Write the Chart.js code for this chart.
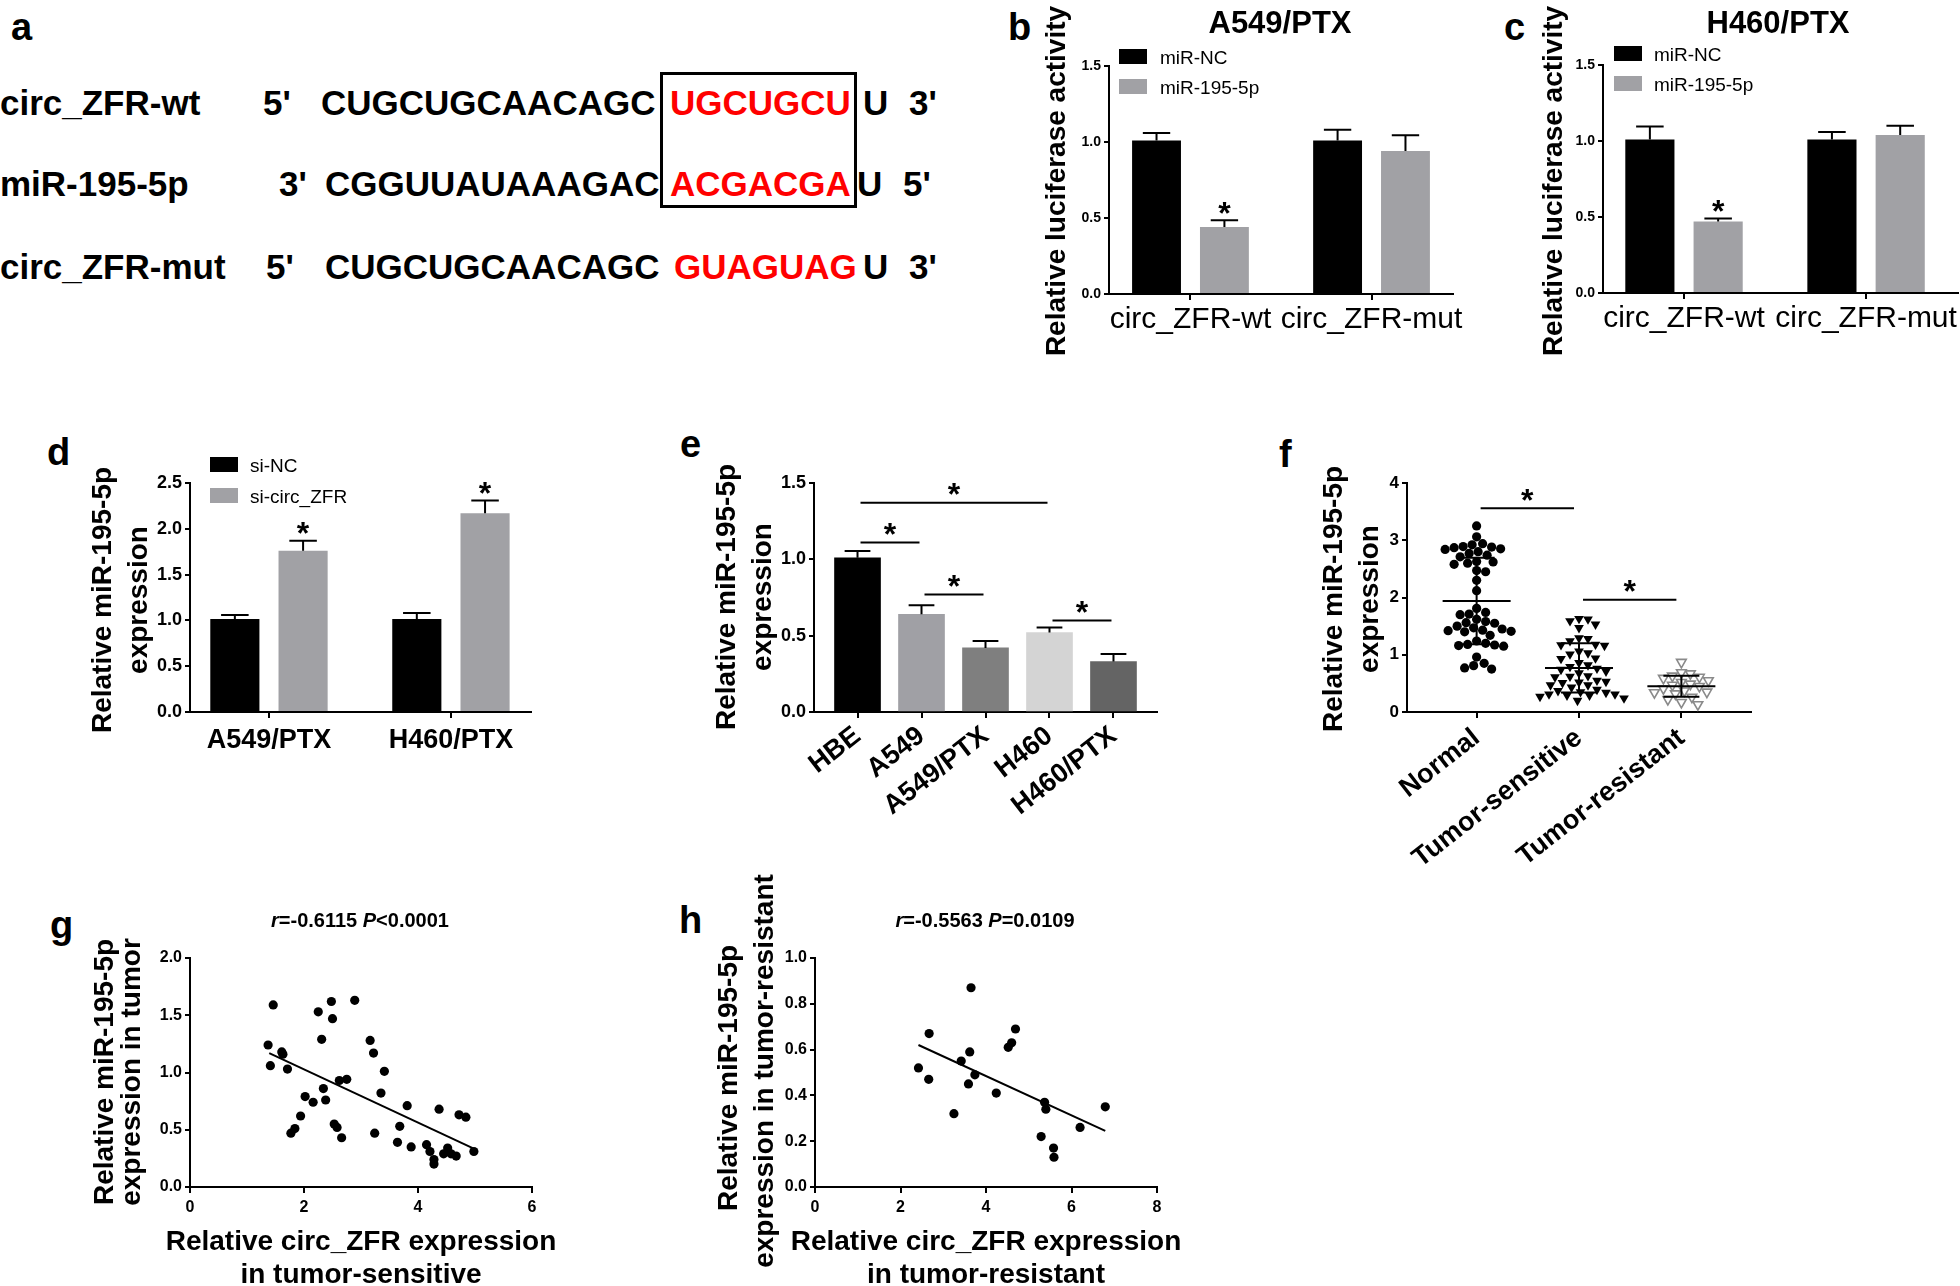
<!DOCTYPE html>
<html>
<head>
<meta charset="utf-8">
<script src="https://cdn.jsdelivr.net/npm/chart.js@4.4.1/dist/chart.umd.min.js"></script>
<style>
  body { margin: 0; width: 1960px; height: 1286px; background: #fff; position: relative; overflow: hidden;
         font-family: 'Liberation Sans', Arial, sans-serif; }
  .t { position: absolute; white-space: nowrap; font-weight: bold; line-height: 1; color: #000; }
  .red { color: #f00; }
  canvas { position: absolute; }
  #siteBox { position: absolute; border: 3px solid #000; box-sizing: border-box; }
</style>
</head>
<body>
<div id="siteBox"></div>
<canvas id="chartB"></canvas>
<canvas id="chartC"></canvas>
<canvas id="chartD"></canvas>
<canvas id="chartE"></canvas>
<canvas id="chartF"></canvas>
<canvas id="chartG"></canvas>
<canvas id="chartH"></canvas>
<script>
// ---------- data ----------
// a: binding site
const seqNames = ['circ_ZFR-wt', 'miR-195-5p', 'circ_ZFR-mut'];
const seqEnds = [["5'", "3'"], ["3'", "5'"], ["5'", "3'"]];
const seqBodies = ['CUGCUGCAACAGC', 'CGGUUAUAAAGAC', 'CUGCUGCAACAGC'];
const seqSites = ['UGCUGCU', 'ACGACGA', 'GUAGUAG'];
const seqTails = ['U', 'U', 'U'];

// b, c: luciferase
const luciCategories = ['circ_ZFR-wt', 'circ_ZFR-mut'];
const luciSeries = ['miR-NC', 'miR-195-5p'];
const luciTicks = [0, 0.5, 1.0, 1.5];
const a549Nc = [1.01, 1.01];
const a549NcErr = [0.05, 0.07];
const a549Mir = [0.44, 0.94];
const a549MirErr = [0.045, 0.105];
const h460Nc = [1.01, 1.01];
const h460NcErr = [0.085, 0.05];
const h460Mir = [0.47, 1.04];
const h460MirErr = [0.02, 0.06];
const luciStars = [true, false];

// d: si-circ_ZFR
const siCategories = ['A549/PTX', 'H460/PTX'];
const siSeries = ['si-NC', 'si-circ_ZFR'];
const siTicks = [0, 0.5, 1.0, 1.5, 2.0, 2.5];
const siNc = [1.015, 1.015];
const siNcErr = [0.045, 0.065];
const siZfr = [1.76, 2.17];
const siZfrErr = [0.11, 0.14];
const siStars = [true, true];

// e: cell lines
const cellLines = ['HBE', 'A549', 'A549/PTX', 'H460', 'H460/PTX'];
const cellExpr = [1.01, 0.64, 0.42, 0.52, 0.33];
const cellErr = [0.045, 0.06, 0.045, 0.033, 0.05];
const cellTicks = [0, 0.5, 1.0, 1.5];
const cellSig = [[0, 3, 1.37], [0, 1, 1.11], [1, 2, 0.77], [3, 4, 0.60]];

// g: tumor-sensitive correlation
const sensZfr = [1.46, 1.37, 1.41, 1.61, 1.63, 1.71, 1.77, 1.84, 1.94, 2.02, 2.16, 2.25, 2.31, 2.34, 2.38,
  2.48, 2.50, 2.53, 2.58, 2.62, 2.66, 2.75, 2.89, 3.16, 3.22, 3.24, 3.35, 3.41, 3.64, 3.68, 3.81, 3.88,
  4.15, 4.21, 4.28, 4.28, 4.37, 4.45, 4.52, 4.58, 4.67, 4.72, 4.84, 4.98];
const sensMir = [1.59, 1.24, 1.06, 1.18, 1.16, 1.03, 0.47, 0.51, 0.62, 0.79, 0.74, 1.53, 1.29, 0.86, 0.76,
  1.62, 1.47, 0.55, 0.52, 0.93, 0.43, 0.94, 1.63, 1.28, 1.17, 0.47, 0.82, 1.01, 0.39, 0.53, 0.71, 0.35,
  0.37, 0.31, 0.24, 0.20, 0.68, 0.29, 0.34, 0.29, 0.27, 0.63, 0.61, 0.31];
const sensFit = [[1.39, 1.17], [4.96, 0.34]];
const sensTicksX = [0, 2, 4, 6];
const sensTicksY = [0, 0.5, 1.0, 1.5, 2.0];

// h: tumor-resistant correlation
const resZfr = [2.42, 2.67, 2.66, 3.25, 3.42, 3.62, 3.59, 3.65, 3.74, 4.24, 4.52, 4.60, 4.69, 5.29, 5.37,
  5.40, 5.58, 5.59, 6.20, 6.79];
const resMir = [0.52, 0.67, 0.47, 0.32, 0.55, 0.59, 0.45, 0.87, 0.49, 0.41, 0.61, 0.63, 0.69, 0.22, 0.37,
  0.34, 0.17, 0.13, 0.26, 0.35];
const resFit = [[2.42, 0.62], [6.79, 0.245]];
const resTicksX = [0, 2, 4, 6, 8];
const resTicksY = [0, 0.2, 0.4, 0.6, 0.8, 1.0];

// f: tissues (tumor groups are the same samples as g and h)
const tissueGroups = ['Normal', 'Tumor-sensitive', 'Tumor-resistant'];
const tissueNormal = [3.25, 3.06, 2.94, 2.92, 2.89, 2.88, 2.87, 2.85, 2.84, 2.80, 2.77, 2.74, 2.71, 2.63,
  2.62, 2.60, 2.58, 2.47, 2.45, 2.30, 2.12, 1.81, 1.74, 1.71, 1.70, 1.62, 1.58, 1.56, 1.55, 1.50, 1.47,
  1.45, 1.43, 1.42, 1.41, 1.40, 1.34, 1.24, 1.20, 1.18, 1.17, 1.16, 1.15, 0.96, 0.85, 0.81, 0.77, 0.75];
const tissueSensitive = sensMir;
const tissueResistant = resMir;
const tissueMean = [1.94, 0.77, 0.45];
const tissueSd = [0.755, 0.43, 0.185];
const tissueTicks = [0, 1, 2, 3, 4];
const tissueSig = [[0, 1, 3.56], [1, 2, 1.96]];

// ---------- helpers ----------
const FONT = "'Liberation Sans', Arial, sans-serif";
const GRAY = '#a1a1a5';
Chart.defaults.font.family = FONT;
Chart.defaults.color = '#000';
Chart.defaults.animation = false;

function htmlText(str, x, y, size, cls) {
    const d = document.createElement('div');
    d.className = 't' + (cls ? ' ' + cls : '');
    d.textContent = str;
    d.style.fontSize = size + 'px';
    d.style.left = x + 'px';
    d.style.top = (y - 0.8465 * size) + 'px';   // y is the baseline
    document.body.appendChild(d);
}

function setupCanvas(id, area, pad) {
    const cv = document.getElementById(id);
    const w = area.r - area.l + pad.l + pad.r;
    const h = area.b - area.t + pad.t + pad.b;
    cv.width = w; cv.height = h;
    cv.style.left = (area.l - pad.l) + 'px';
    cv.style.top = (area.t - pad.t) + 'px';
    cv.style.width = w + 'px';
    cv.style.height = h + 'px';
    return { x: area.l - pad.l, y: area.t - pad.t };
}

function drawText(ctx, str, x, y, size, opts = {}) {
    ctx.save();
    ctx.font = `${opts.italic ? 'italic ' : ''}${opts.weight || 'bold'} ${size}px ${FONT}`;
    ctx.fillStyle = opts.color || '#000';
    ctx.textAlign = opts.align || 'left';
    ctx.textBaseline = 'alphabetic';
    ctx.translate(x, y);
    if (opts.rotate) ctx.rotate(opts.rotate);
    ctx.fillText(str, 0, 0);
    ctx.restore();
}

function yTitle(ctx, lines, baselines, cy, size) {
    lines.forEach((l, i) => drawText(ctx, l, baselines[i], cy, size, { align: 'center', rotate: -Math.PI / 2 }));
}

function star(ctx, x, cy) {
    drawText(ctx, '*', x, cy + 0.55 * 32, 32, { align: 'center' });
}

function richText(ctx, parts, cx, y, size) {
    ctx.save();
    const fontOf = p => `${p.i ? 'italic ' : ''}bold ${size}px ${FONT}`;
    let total = 0;
    parts.forEach(p => { ctx.font = fontOf(p); total += ctx.measureText(p.t).width; });
    let x = cx - total / 2;
    ctx.fillStyle = '#000';
    parts.forEach(p => { ctx.font = fontOf(p); ctx.fillText(p.t, x, y); x += ctx.measureText(p.t).width; });
    ctx.restore();
}

function legendBoxes(ctx, names, colors, x, ys, textX, size) {
    names.forEach((n, i) => {
        ctx.fillStyle = colors[i];
        ctx.fillRect(x, ys[i], 28, 15);
        drawText(ctx, n, textX, ys[i] + 15, size, { weight: 'normal' });
    });
}

// text drawn in page coordinates
function decorPlugin(origin, draw) {
    return {
        id: 'decor',
        afterDraw(chart) {
            const ctx = chart.ctx;
            ctx.save();
            ctx.translate(-origin.x, -origin.y);
            draw(ctx, chart);
            ctx.restore();
        }
    };
}

// error bars (upper half) and stars from dataset.errors / dataset.stars
const errorBarPlugin = {
    id: 'errorBars',
    afterDatasetsDraw(chart) {
        const ctx = chart.ctx, ys = chart.scales.y;
        ctx.save();
        ctx.strokeStyle = '#000';
        ctx.lineWidth = 2;
        chart.data.datasets.forEach((ds, di) => {
            if (!ds.errors) return;
            const meta = chart.getDatasetMeta(di);
            meta.data.forEach((bar, i) => {
                const v = meta.controller.getParsed(i).y;
                const top = ys.getPixelForValue(v + ds.errors[i]);
                const half = bar.width * 0.28;
                ctx.beginPath();
                ctx.moveTo(bar.x, bar.y);
                ctx.lineTo(bar.x, top);
                ctx.moveTo(bar.x - half, top);
                ctx.lineTo(bar.x + half, top);
                ctx.stroke();
                if (ds.stars && ds.stars[i]) star(ctx, bar.x, top - 14);
            });
        });
        ctx.restore();
    }
};

function sigPlugin(pairs, inset) {
    return {
        id: 'sig',
        afterDatasetsDraw(chart) {
            const ctx = chart.ctx, xs = chart.scales.x, ys = chart.scales.y;
            ctx.save();
            ctx.strokeStyle = '#000';
            ctx.lineWidth = 2;
            pairs.forEach(([a, b, v]) => {
                const x1 = xs.getPixelForValue(a) + inset[0];
                const x2 = xs.getPixelForValue(b) + inset[1];
                const y = ys.getPixelForValue(v);
                ctx.beginPath();
                ctx.moveTo(x1, y);
                ctx.lineTo(x2, y);
                ctx.stroke();
                star(ctx, (x1 + x2) / 2, y - 15);
            });
            ctx.restore();
        }
    };
}

function yAxis(ticks, size, padL, fmt) {
    return {
        min: ticks[0], max: ticks[ticks.length - 1],
        afterFit: s => { s.width = padL; },
        afterBuildTicks: s => { s.ticks = ticks.map(v => ({ value: v })); },
        border: { display: true, color: '#000', width: 2 },
        grid: { display: true, drawOnChartArea: false, drawTicks: true, tickLength: 5, color: '#000', lineWidth: 2 },
        ticks: { font: { size: size, weight: 'bold' }, padding: 3, callback: v => fmt(v) }
    };
}

// x axis with one tick per category on a linear index scale
function categoryAxis(cats, xMin, xMax, padB, font, rotation, padding) {
    return {
        type: 'linear', offset: false, min: xMin, max: xMax,
        afterFit: s => { s.height = padB; },
        afterBuildTicks: s => { s.ticks = cats.map((c, i) => ({ value: i })); },
        border: { display: true, color: '#000', width: 2 },
        grid: { display: true, offset: false, drawOnChartArea: false, drawTicks: true, tickLength: 6, color: '#000', lineWidth: 2 },
        ticks: { font: font, minRotation: rotation, maxRotation: rotation, autoSkip: false, padding: padding,
                 callback: v => cats[v] }
    };
}

function baseOptions(pad, scales) {
    return {
        responsive: false,
        maintainAspectRatio: false,
        animation: false,
        layout: { padding: { left: 0, top: pad.t, right: pad.r, bottom: 0 }, autoPadding: false },
        plugins: { legend: { display: false }, tooltip: { enabled: false } },
        scales: scales
    };
}

// grouped bar panel (b, c, d)
function groupedBarChart(id, area, pad, xRange, cats, series, vals, errs, stars, ticks, sizes, decor) {
    const origin = setupCanvas(id, area, pad);
    const colors = ['#000000', GRAY];
    return new Chart(document.getElementById(id), {
        type: 'bar',
        data: {
            datasets: series.map((name, k) => ({
                label: name,
                data: vals[k].map((v, i) => ({ x: i, y: v })),
                errors: errs[k],
                stars: k === 1 ? stars : null,
                backgroundColor: colors[k],
                borderWidth: 0,
                categoryPercentage: 0.75,
                barPercentage: 0.72
            }))
        },
        options: baseOptions(pad, {
            x: categoryAxis(cats, xRange[0], xRange[1], pad.b,
                { size: sizes.cat, weight: sizes.catWeight }, 0, sizes.catPad),
            y: yAxis(ticks, sizes.tick, pad.l, v => v.toFixed(1))
        }),
        plugins: [errorBarPlugin, decorPlugin(origin, (ctx) => decor(ctx, colors))]
    });
}

// simple beeswarm: spread points sideways (in pixels) so markers do not overlap
function swarm(values, group, pxPerX, pxPerY, diam) {
    const placed = [];
    const out = new Array(values.length);
    const order = values.map((v, i) => i).sort((a, b) => values[b] - values[a]);
    order.forEach(i => {
        const py = values[i] * pxPerY;
        let off = 0;
        for (let k = 0; k < 400; k++) {
            const step = Math.ceil(k / 2) * 1.5;
            const cand = k % 2 ? step : -step;
            const hit = placed.some(p => (cand - p.x) ** 2 + (py - p.y) ** 2 < diam * diam);
            if (!hit) { off = cand; break; }
        }
        placed.push({ x: off, y: py });
        out[i] = { x: group + off / pxPerX, y: values[i] };
    });
    return out;
}

// ---------- panel a (HTML text) ----------
const rowBase = [115, 196, 279];
const rowCols = [[0, 263, 321, 670, 863, 909], [0, 279, 325, 670, 857, 903], [0, 266, 325, 674, 863, 909]];
seqNames.forEach((name, r) => {
    const c = rowCols[r], y = rowBase[r];
    htmlText(name, c[0], y, 35);
    htmlText(seqEnds[r][0], c[1], y, 35);
    htmlText(seqBodies[r], c[2], y, 35);
    htmlText(seqSites[r], c[3], y, 35, 'red');
    htmlText(seqTails[r], c[4], y, 35);
    htmlText(seqEnds[r][1], c[5], y, 35);
});
const box = document.getElementById('siteBox');
Object.assign(box.style, { left: '660px', top: '72px', width: '197px', height: '136px' });

// panel letters
[['a', 11, 40], ['b', 1008, 40], ['c', 1504, 40], ['d', 47, 465], ['e', 680, 457],
 ['f', 1279, 467], ['g', 50, 938], ['h', 679, 933]].forEach(([l, x, y]) => htmlText(l, x, y, 38));

// ---------- panel b ----------
groupedBarChart('chartB', { l: 1109, t: 66, r: 1453, b: 294 }, { l: 72, t: 66, r: 20, b: 72 }, [-0.45, 1.45],
    luciCategories, luciSeries, [a549Nc, a549Mir], [a549NcErr, a549MirErr], luciStars, luciTicks,
    { cat: 30, catWeight: 'normal', catPad: 2, tick: 14 },
    (ctx, colors) => {
        drawText(ctx, 'A549/PTX', 1280, 33, 31, { align: 'center' });
        yTitle(ctx, ['Relative luciferase activity'], [1065], 181, 28);
        legendBoxes(ctx, luciSeries, colors, 1119, [49, 79], 1160, 19);
    });

// ---------- panel c ----------
groupedBarChart('chartC', { l: 1603, t: 65, r: 1958, b: 293 }, { l: 72, t: 65, r: 2, b: 72 }, [-0.445, 1.505],
    luciCategories, luciSeries, [h460Nc, h460Mir], [h460NcErr, h460MirErr], luciStars, luciTicks,
    { cat: 30, catWeight: 'normal', catPad: 2, tick: 14 },
    (ctx, colors) => {
        drawText(ctx, 'H460/PTX', 1778, 33, 31, { align: 'center' });
        yTitle(ctx, ['Relative luciferase activity'], [1562], 181, 28);
        legendBoxes(ctx, luciSeries, colors, 1614, [46, 76], 1654, 19);
    });

// ---------- panel d ----------
groupedBarChart('chartD', { l: 190, t: 483, r: 531, b: 712 }, { l: 112, t: 40, r: 10, b: 50 }, [-0.434, 1.44],
    siCategories, siSeries, [siNc, siZfr], [siNcErr, siZfrErr], siStars, siTicks,
    { cat: 27, catWeight: 'bold', catPad: 6, tick: 18 },
    (ctx, colors) => {
        yTitle(ctx, ['Relative miR-195-5p', 'expression'], [111, 147], 600, 28);
        legendBoxes(ctx, siSeries, colors, 210, [457, 488], 250, 19);
    });

// ---------- panel e ----------
(function () {
    const area = { l: 814, t: 483, r: 1157, b: 712 }, pad = { l: 110, t: 40, r: 20, b: 125 };
    const origin = setupCanvas('chartE', area, pad);
    new Chart(document.getElementById('chartE'), {
        type: 'bar',
        data: {
            datasets: [{
                data: cellExpr.map((v, i) => ({ x: i, y: v })),
                errors: cellErr,
                backgroundColor: ['#000000', '#a0a0a5', '#7f7f7f', '#d4d4d4', '#646464'],
                borderWidth: 0,
                barThickness: 46
            }]
        },
        options: baseOptions(pad, {
            x: categoryAxis(cellLines, -0.68, cellLines.length - 0.32, pad.b, { size: 27, weight: 'bold' }, 38, 2),
            y: yAxis(cellTicks, 18, pad.l, v => v.toFixed(1))
        }),
        plugins: [errorBarPlugin, sigPlugin(cellSig, [3, -2]), decorPlugin(origin, ctx => {
            yTitle(ctx, ['Relative miR-195-5p', 'expression'], [735, 771], 597, 28);
        })]
    });
})();

// ---------- panel f ----------
(function () {
    const area = { l: 1407, t: 483, r: 1751, b: 712 }, pad = { l: 95, t: 40, r: 20, b: 200 };
    const origin = setupCanvas('chartF', area, pad);
    const xMin = -0.68, xMax = tissueGroups.length - 0.32;
    const pxX = (area.r - area.l) / (xMax - xMin);
    const pxY = (area.b - area.t) / (tissueTicks[tissueTicks.length - 1] - tissueTicks[0]);
    const meanSdPlugin = {
        id: 'meanSd',
        afterDatasetsDraw(chart) {
            const ctx = chart.ctx, xs = chart.scales.x, ys = chart.scales.y;
            ctx.save();
            ctx.strokeStyle = '#000';
            ctx.lineWidth = 2;
            tissueMean.forEach((m, g) => {
                const x = xs.getPixelForValue(g);
                const ym = ys.getPixelForValue(m);
                const hi = ys.getPixelForValue(m + tissueSd[g]);
                const lo = ys.getPixelForValue(m - tissueSd[g]);
                ctx.beginPath();
                ctx.moveTo(x - 34, ym); ctx.lineTo(x + 34, ym);
                ctx.moveTo(x, hi); ctx.lineTo(x, lo);
                ctx.moveTo(x - 18, hi); ctx.lineTo(x + 18, hi);
                ctx.moveTo(x - 18, lo); ctx.lineTo(x + 18, lo);
                ctx.stroke();
            });
            ctx.restore();
        }
    };
    new Chart(document.getElementById('chartF'), {
        type: 'scatter',
        data: {
            datasets: [
                { data: swarm(tissueNormal, 0, pxX, pxY, 9), pointStyle: 'circle', pointRadius: 4.6,
                  pointBackgroundColor: '#000', pointBorderWidth: 0 },
                { data: swarm(tissueSensitive, 1, pxX, pxY, 9), pointStyle: 'triangle', pointRotation: 180,
                  pointRadius: 5.6, pointBackgroundColor: '#000', pointBorderWidth: 0 },
                { data: swarm(tissueResistant, 2, pxX, pxY, 9), pointStyle: 'triangle', pointRotation: 180,
                  pointRadius: 5.6, pointBackgroundColor: '#fff', pointBorderColor: '#8a8a8a', pointBorderWidth: 1.6 }
            ]
        },
        options: baseOptions(pad, {
            x: categoryAxis(tissueGroups, xMin, xMax, pad.b, { size: 27, weight: 'bold' }, 38, 4),
            y: yAxis(tissueTicks, 17, pad.l, v => String(v))
        }),
        plugins: [meanSdPlugin, sigPlugin(tissueSig, [4, -5]), decorPlugin(origin, ctx => {
            yTitle(ctx, ['Relative miR-195-5p', 'expression'], [1342, 1378], 599, 28);
        })]
    });
})();

// ---------- scatter panels g, h ----------
function scatterChart(id, area, pad, xs, ys, fit, ticksX, ticksY, yFmt, decor) {
    const origin = setupCanvas(id, area, pad);
    return new Chart(document.getElementById(id), {
        type: 'scatter',
        data: {
            datasets: [
                { data: xs.map((x, i) => ({ x: x, y: ys[i] })), pointRadius: 4.6,
                  pointBackgroundColor: '#000', pointBorderWidth: 0 },
                { data: fit.map(([x, y]) => ({ x: x, y: y })), showLine: true, borderColor: '#000',
                  borderWidth: 2, pointRadius: 0, fill: false }
            ]
        },
        options: baseOptions(pad, {
            x: {
                type: 'linear', min: ticksX[0], max: ticksX[ticksX.length - 1],
                afterFit: s => { s.height = pad.b; },
                afterBuildTicks: s => { s.ticks = ticksX.map(v => ({ value: v })); },
                border: { display: true, color: '#000', width: 2 },
                grid: { display: true, drawOnChartArea: false, drawTicks: true, tickLength: 6, color: '#000', lineWidth: 2 },
                ticks: { font: { size: 16, weight: 'bold' }, padding: 5, callback: v => String(v) }
            },
            y: yAxis(ticksY, 16, pad.l, yFmt)
        }),
        plugins: [decorPlugin(origin, decor)]
    });
}

scatterChart('chartG', { l: 190, t: 958, r: 532, b: 1187 }, { l: 110, t: 50, r: 45, b: 99 },
    sensZfr, sensMir, sensFit, sensTicksX, sensTicksY, v => v.toFixed(1),
    ctx => {
        richText(ctx, [{ t: 'r', i: true }, { t: '=-0.6115 ' }, { t: 'P', i: true }, { t: '<0.0001' }], 360, 927, 20);
        yTitle(ctx, ['Relative miR-195-5p', 'expression in tumor'], [113, 140], 1072, 28);
        drawText(ctx, 'Relative circ_ZFR expression', 361, 1250, 28, { align: 'center' });
        drawText(ctx, 'in tumor-sensitive', 361, 1283, 28, { align: 'center' });
    });

scatterChart('chartH', { l: 815, t: 958, r: 1157, b: 1187 }, { l: 110, t: 100, r: 35, b: 99 },
    resZfr, resMir, resFit, resTicksX, resTicksY, v => v.toFixed(1),
    ctx => {
        richText(ctx, [{ t: 'r', i: true }, { t: '=-0.5563 ' }, { t: 'P', i: true }, { t: '=0.0109' }], 985, 927, 20);
        yTitle(ctx, ['Relative miR-195-5p'], [737], 1078, 28);
        yTitle(ctx, ['expression in tumor-resistant'], [773], 1071, 28);
        drawText(ctx, 'Relative circ_ZFR expression', 986, 1250, 28, { align: 'center' });
        drawText(ctx, 'in tumor-resistant', 986, 1283, 28, { align: 'center' });
    });
</script>
</body>
</html>
